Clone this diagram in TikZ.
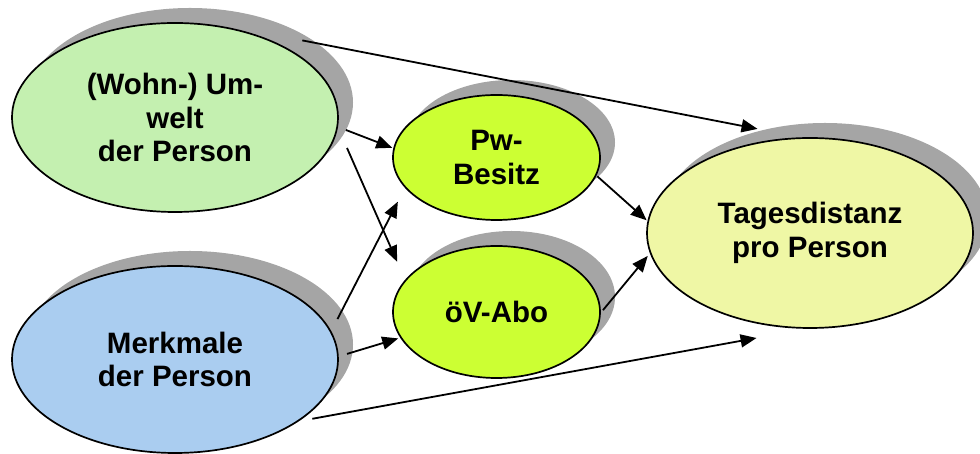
\documentclass[tikz,border=0pt]{standalone}
\usepackage{fontspec}
\setmainfont{Liberation Sans}
\usetikzlibrary{shapes.geometric,arrows.meta}

\definecolor{envgreen}{RGB}{196,240,176}
\definecolor{persblue}{RGB}{170,205,240}
\definecolor{lime}{RGB}{204,255,51}
\definecolor{paleyellow}{RGB}{239,247,165}
\definecolor{shadowgray}{RGB}{165,165,165}

\tikzset{
  ell/.style={ellipse, inner sep=0pt, outer sep=0pt, align=center,
              font=\bfseries\fontsize{29.5}{33.5}\selectfont},
  big/.style={minimum width=326pt, minimum height=189pt},
  small/.style={minimum width=207pt, minimum height=125pt},
  shade/.style={fill=shadowgray, draw=none, xshift=15pt, yshift=15pt},
  rim/.style={draw=black, line width=1.7pt},
  conn/.style={line width=1.8pt, -{Triangle[length=16pt,width=13pt]}}
}

\begin{document}
\begin{tikzpicture}[x=1pt,y=1pt]
\useasboundingbox (0,0) rectangle (980,454);

% drop shadows
\node[ell,big,shade]   (umwS) at (175,336.5) {};
\node[ell,big,shade,minimum height=187pt] (merS) at (175,94.5) {};
\node[ell,small,shade] (pwS)  at (496.5,296.5) {};
\node[ell,small,shade,minimum height=132pt] (oevS) at (496.5,142) {};
\node[ell,big,shade,minimum height=190pt] (tagS) at (810,221) {};

% variables
\node[ell,big,rim,fill=envgreen] (umw) at (175,336.5) {(Wohn-) Um-\\welt\\der Person};
\node[ell,big,rim,fill=persblue,minimum height=187pt] (mer) at (175,94.5) {Merkmale\\der Person};
\node[ell,small,rim,fill=lime] (pw) at (496.5,296.5) {Pw-\\Besitz};
\node[ell,small,rim,fill=lime,minimum height=132pt] (oev) at (496.5,142) {öV-Abo};
\node[ell,big,rim,fill=paleyellow,minimum height=190pt] (tag) at (810,221) {Tagesdistanz\\pro Person};

% effects
\draw[conn, shorten <=-15pt, shorten >=6pt] (umwS.25) -- (tagS.125);
\draw[conn, shorten >=2pt] (umwS.-10) -- (pw.175);
\draw[conn, shorten <=24pt, shorten >=20.6pt] (umw.-3) -- (oev.161);
\draw[conn, shorten <=14.6pt, shorten >=16.4pt] (mer.10) -- (pw.198);
\draw[conn, shorten <=9.5pt, shorten >=3pt] (mer.1) -- (oev.195);
\draw[conn, shorten <=15.7pt, shorten >=56pt] (mer.-27) -- (tag.271);
\draw[conn, shorten <=2pt, shorten >=2pt] (pw.-10) -- (tag.176);
\draw[conn, shorten <=4.7pt, shorten >=4.3pt] (oev.-1) -- (tag.187);
\end{tikzpicture}
\end{document}
